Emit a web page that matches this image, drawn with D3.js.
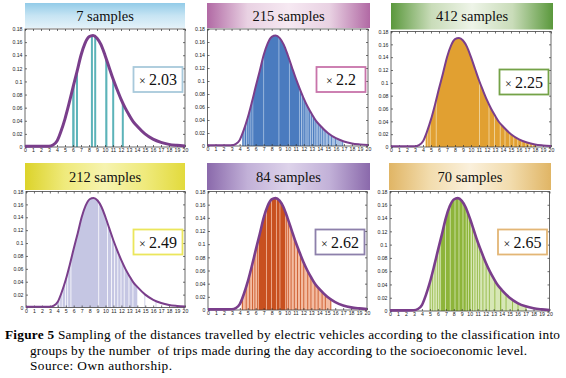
<!DOCTYPE html>
<html><head><meta charset="utf-8">
<script src="https://cdn.jsdelivr.net/npm/d3@7"></script>
<style>body{margin:0;background:#fff}svg{display:block}</style>
</head><body><svg id="c" width="566" height="378"></svg>
<script>
// ---------- data ----------
const curveX = [0,1,2,3,3.5,4,4.5,5,5.5,6,6.5,7,7.5,8,8.5,9,9.5,10,10.5,11,11.5,12,12.5,13,13.5,14,15,16,17,18,19,20];
const curveY = [0.001,0.001,0.001,0.0012,0.003,0.009,0.024,0.043,0.066,0.091,0.115,0.14,0.158,0.168,0.17,0.166,0.156,0.14,0.122,0.104,0.088,0.073,0.06,0.049,0.039,0.032,0.02,0.012,0.007,0.004,0.0025,0.0015];
const xTickLabels = ["0","1","2","3","4","5","6","7","8","9","10","11","12","13","14","15","16","17","18","19","20"];
const yTickValues = [0,0.02,0.04,0.06,0.08,0.1,0.12,0.14,0.16,0.18];
const yTickLabels = ["0","0.02","0.04","0.06","0.08","0.1","0.12","0.14","0.16","0.18"];
const titles = ["7 samples","215 samples","412 samples","212 samples","84 samples","70 samples"];
const factors = ["2.03","2.2","2.25","2.49","2.62","2.65"];
// sampled ranges (x intervals) for each panel
const bars1 = [[5.9,6.2],[6.37,6.62],[8.24,8.49],[8.65,8.9],[10.03,10.3],[10.9,11.15],[12.1,12.35]];
const bars2 = [[4.35,4.5],[4.65,4.8],[4.95,5.1],[5.2,5.35],[5.45,5.6],[5.7,6.95],[7.05,8.85],[8.95,10.15],[10.25,11.4],[11.5,11.65],[11.8,11.95],[12.05,12.2],[12.35,12.45],[12.6,12.75],[12.9,13.0],[13.15,13.3],[13.45,13.55],[13.75,13.85],[14.0,14.1],[14.3,14.4],[14.6,14.7],[15.0,15.1],[15.4,15.5],[15.9,16.0],[16.8,16.9]];
const bars3 = [[4.35,4.55],[4.65,4.85],[4.95,5.6],[5.7,11.0],[11.1,12.2],[12.3,12.9],[13.0,13.6],[13.7,14.2],[14.3,14.8],[14.9,15.3],[15.4,15.8],[15.9,16.3],[16.4,16.8],[16.9,17.2],[17.4,17.6],[17.8,18.1]];
const bars4 = [[3.9,4.2],[4.3,4.5],[4.6,4.9],[5.0,5.2],[5.3,5.6],[5.7,9.1],[9.2,10.2],[10.3,10.7],[10.8,11.1],[11.2,11.5],[11.6,11.9],[12.0,12.3],[12.4,12.9],[13.0,13.4],[13.5,14.0],[14.9,15.0],[16.3,16.4]];
const bars5 = [[4.3,4.4],[4.75,4.85],[5.2,5.3],[5.55,5.65],[5.85,5.95],[6.2,6.3],[6.4,7.3],[7.4,7.95],[8.05,8.55],[8.65,9.0],[9.1,9.7],[9.8,9.9],[10.05,10.15],[10.4,10.5],[10.8,10.9],[11.2,11.3],[11.6,11.7],[12.0,12.1],[12.5,12.6],[12.9,13.0],[13.4,13.5],[13.8,13.9],[14.3,14.4],[14.7,14.8],[15.4,15.5]];
const bars6 = [[5.0,5.08],[5.3,5.38],[5.6,5.68],[5.9,5.98],[6.2,6.3],[6.4,6.9],[7.0,7.5],[7.6,8.1],[8.2,8.6],[8.7,9.1],[9.2,9.5],[9.6,9.8],[9.9,10.1],[10.3,10.4],[10.6,10.7],[10.9,11.0],[11.2,11.3],[11.6,11.7],[12.0,12.1],[12.4,12.5],[13.1,13.2],[13.8,13.95],[14.5,14.6],[15.3,15.4],[16.0,16.1],[17.0,17.1]];
const sampleRange = [null,[4.3,16.9],[4.3,18.2],null,[4.2,15.5],[4.9,17.1]];
const captionBold = "Figure 5";
const captionLines = [" Sampling of the distances travelled by electric vehicles according to the classification into",
  "groups by the number  of trips made during the day according to the socioeconomic level.",
  "Source: Own authorship."];

// ---------- layout / style ----------
const allBars = [bars1,bars2,bars3,bars4,bars5,bars6];
const layout = [
  {l:25,r:185,t:29,b:147, ban:[25,185,3,28], grad:{dir:"v",stops:["#92cbe8","#c6e4f3","#e4f2f9"]}, bar:"#5cb3b9", tint:null, box:"#a8c9db", lw:3},
  {l:207.5,r:368,t:29,b:146, ban:[207,370,3,28], grad:{dir:"h",stops:["#b169a4","#e9d2e3","#f6e9f2","#e9d2e3","#b169a4"]}, bar:"#4a7bbf", tint:"#a9c2e3", box:"#c874aa", lw:2},
  {l:391,r:551,t:31.5,b:147, ban:[391,553,3,29.5], grad:{dir:"h",stops:["#5a983c","#c9dcb9","#eef4e8","#c9dcb9","#5a983c"]}, bar:"#e1a031", tint:"#f2dcae", box:"#74a248", lw:2},
  {l:26,r:185,t:191.5,b:307.5, ban:[25,185,163,190], grad:{dir:"h",stops:["#dcd32a","#efea7c","#f6f3b0","#efea7c","#e2da3c"]}, bar:"#c5c6e3", tint:null, box:"#ebe65c", lw:2},
  {l:208,r:367,t:191.5,b:310, ban:[207,370,163,190], grad:{dir:"h",stops:["#8a69ab","#c2b1d8","#ddd3ea","#c2b1d8","#8a69ab"]}, bar:"#c8501f", tint:"#f3bca2", box:"#8d80ab", lw:2.6},
  {l:390,r:549.5,t:191.5,b:311, ban:[389,551,163,190], grad:{dir:"h",stops:["#e0b565","#f2dcad","#faf0dc","#f2dcad","#e0b565"]}, bar:"#8db43a", tint:"#d7e7b6", box:"#e3b676", lw:2.6}
];

const svg = d3.select("#c");
const defs = svg.append("defs");
const pts = curveX.map((x,i)=>[x,curveY[i]]);
const SERIF = "'Liberation Serif', 'Times New Roman', serif";

layout.forEach((p,i)=>{
  const g = svg.append("g");
  const x = d3.scaleLinear().domain([0,20]).range([p.l,p.r]);
  const y = d3.scaleLinear().domain([0,0.18]).range([p.b,p.t]);

  // banner
  const gid = "grad"+i;
  const lg = defs.append("linearGradient").attr("id",gid)
    .attr("x1",0).attr("y1",0).attr("x2",p.grad.dir==="h"?1:0).attr("y2",p.grad.dir==="h"?0:1);
  p.grad.stops.forEach((c,k)=>lg.append("stop").attr("offset",k/(p.grad.stops.length-1)).attr("stop-color",c));
  g.append("rect").attr("x",p.ban[0]).attr("y",p.ban[2]).attr("width",p.ban[1]-p.ban[0]).attr("height",p.ban[3]-p.ban[2]).attr("fill",`url(#${gid})`);
  g.append("text").attr("x",(p.ban[0]+p.ban[1])/2).attr("y",(p.ban[2]+p.ban[3])/2+5)
    .attr("text-anchor","middle").style("font-family",SERIF).attr("font-size",14.5).attr("fill","#111").text(titles[i]);

  // plot background
  g.append("rect").attr("x",p.l).attr("y",p.t).attr("width",p.r-p.l).attr("height",p.b-p.t).attr("fill","#fff");

  // clip: area under curve
  const area = d3.area().x(d=>x(d[0])).y0(y(0)).y1(d=>y(d[1])).curve(d3.curveMonotoneX);
  const cid = "clip"+i;
  defs.append("clipPath").attr("id",cid).append("path").attr("d",area(pts));
  const bg = g.append("g").attr("clip-path",`url(#${cid})`);
  if (sampleRange[i] && p.tint) {
    bg.append("rect").attr("x",x(sampleRange[i][0])).attr("width",x(sampleRange[i][1])-x(sampleRange[i][0]))
      .attr("y",y(0.18)).attr("height",y(0)-y(0.18)).attr("fill",p.tint);
  }
  bg.selectAll("rect.bar").data(allBars[i]).join("rect").attr("class","bar")
    .attr("x",d=>x(d[0])).attr("width",d=>x(d[1])-x(d[0]))
    .attr("y",y(0.18)).attr("height",y(0)-y(0.18)).attr("fill",p.bar);

  // axes
  const fs = 5.2;
  const ax = g.append("g").attr("transform",`translate(0,${p.b})`)
    .call(d3.axisBottom(x).tickValues(d3.range(xTickLabels.length)).tickFormat((d,k)=>xTickLabels[k]).tickSize(-2).tickPadding(1.5));
  const ay = g.append("g").attr("transform",`translate(${p.l},0)`)
    .call(d3.axisLeft(y).tickValues(yTickValues).tickFormat((d,k)=>yTickLabels[k]).tickSize(-2).tickPadding(2.5));
  const at = g.append("g").attr("transform",`translate(0,${p.t})`)
    .call(d3.axisTop(x).tickValues(d3.range(xTickLabels.length)).tickFormat("").tickSize(-2));
  const ar = g.append("g").attr("transform",`translate(${p.r},0)`)
    .call(d3.axisRight(y).tickValues(yTickValues).tickFormat("").tickSize(-2));
  [ax,ay,at,ar].forEach(a=>{
    a.select(".domain").remove();
    a.selectAll("line").attr("stroke","#333").attr("stroke-width",0.7);
    a.selectAll("text").attr("font-family","Liberation Sans, Arial, sans-serif").attr("font-size",fs).attr("fill","#222");
  });

  // frame
  g.append("rect").attr("x",p.l).attr("y",p.t).attr("width",p.r-p.l).attr("height",p.b-p.t)
    .attr("fill","none").attr("stroke","#444").attr("stroke-width",0.8);

  // curve
  const line = d3.line().x(d=>x(d[0])).y(d=>y(d[1])).curve(d3.curveMonotoneX);
  g.append("path").attr("d",line(pts)).attr("fill","none").attr("stroke","#7a3e8b").attr("stroke-width",p.lw).attr("stroke-linejoin","round");

  // factor box
  const bw = 49, bh = 25;
  const bx = p.r - bw - 2.5, by = p.t + 38;
  g.append("rect").attr("x",bx).attr("y",by).attr("width",bw).attr("height",bh)
    .attr("fill","#fff").attr("stroke",p.box).attr("stroke-width",1.8);
  const t = g.append("text").attr("x",bx+bw/2).attr("y",by+bh/2+5.5).attr("text-anchor","middle")
    .style("font-family",SERIF).attr("font-size",16).attr("fill","#111");
  t.append("tspan").attr("font-size",12).text("× ");
  t.append("tspan").text(factors[i]);
});

// caption
const cap = svg.append("g").style("font-family",SERIF).attr("font-size",13.3).attr("fill","#000");
const l1 = cap.append("text").attr("x",5).attr("y",339).attr("textLength",555).attr("lengthAdjust","spacing");
l1.append("tspan").attr("font-weight","bold").text(captionBold);
l1.append("tspan").text(captionLines[0]);
cap.append("text").attr("x",30).attr("y",354.5).attr("xml:space","preserve").style("white-space","pre")
  .attr("textLength",497).attr("lengthAdjust","spacing").text(captionLines[1]);
cap.append("text").attr("x",30).attr("y",370).attr("textLength",142).attr("lengthAdjust","spacing").text(captionLines[2]);
</script>
</body></html>
